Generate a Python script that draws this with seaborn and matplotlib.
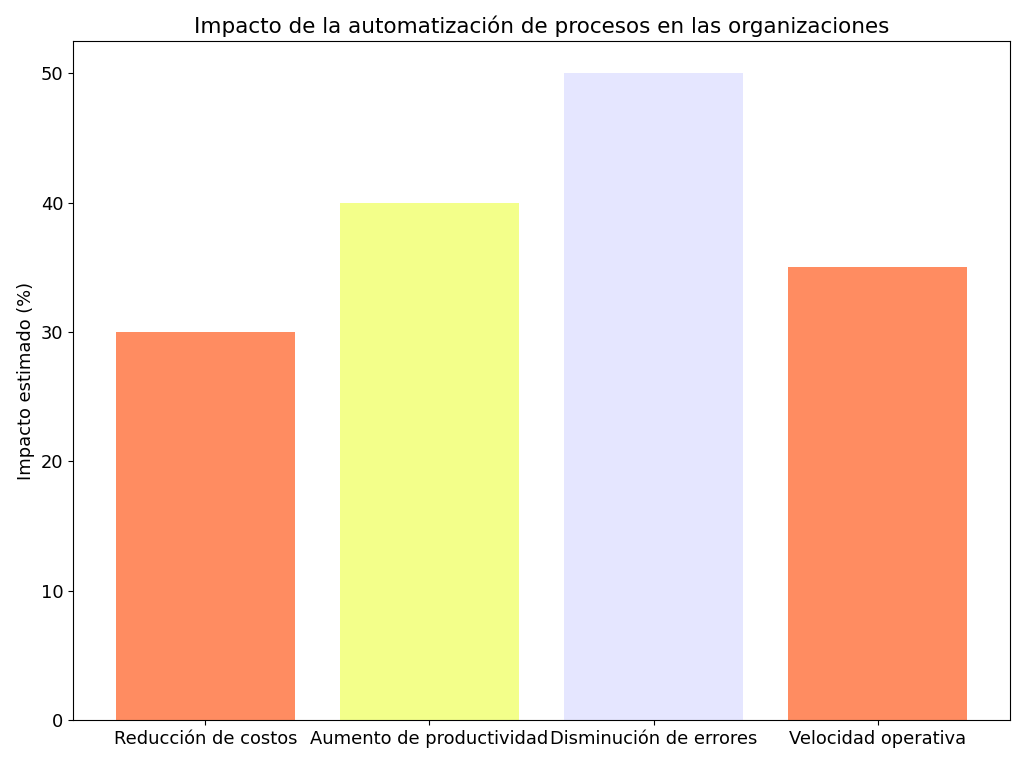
import matplotlib
matplotlib.use("Agg")
import matplotlib.pyplot as plt
import seaborn as sns
import pandas as pd

categories = ["Reducción de costos", "Aumento de productividad", "Disminución de errores", "Velocidad operativa"]
values = [30, 40, 50, 35]
colors = ["#FF8C61", "#F3FF8A", "#E5E6FF", "#FF8C61"]

df = pd.DataFrame({"cat": categories, "val": values})

fig, ax = plt.subplots(figsize=(10.24, 7.64), dpi=100)
sns.barplot(data=df, x="cat", y="val", hue="cat", palette=colors, saturation=1,
            width=0.8, legend=False, ax=ax)
ax.set_xlim(-0.59, 3.59)
ax.set_ylim(0, 52.5)
ax.set_xlabel("")
ax.set_ylabel("Impacto estimado (%)", fontsize=12.9)
ax.set_title("Impacto de la automatización de procesos en las organizaciones", fontsize=15.5)
ax.tick_params(labelsize=12.9)
fig.subplots_adjust(left=73/1024, right=1010/1024, top=1-41/764, bottom=1-720/764)
fig.savefig("out.png", dpi=100)
